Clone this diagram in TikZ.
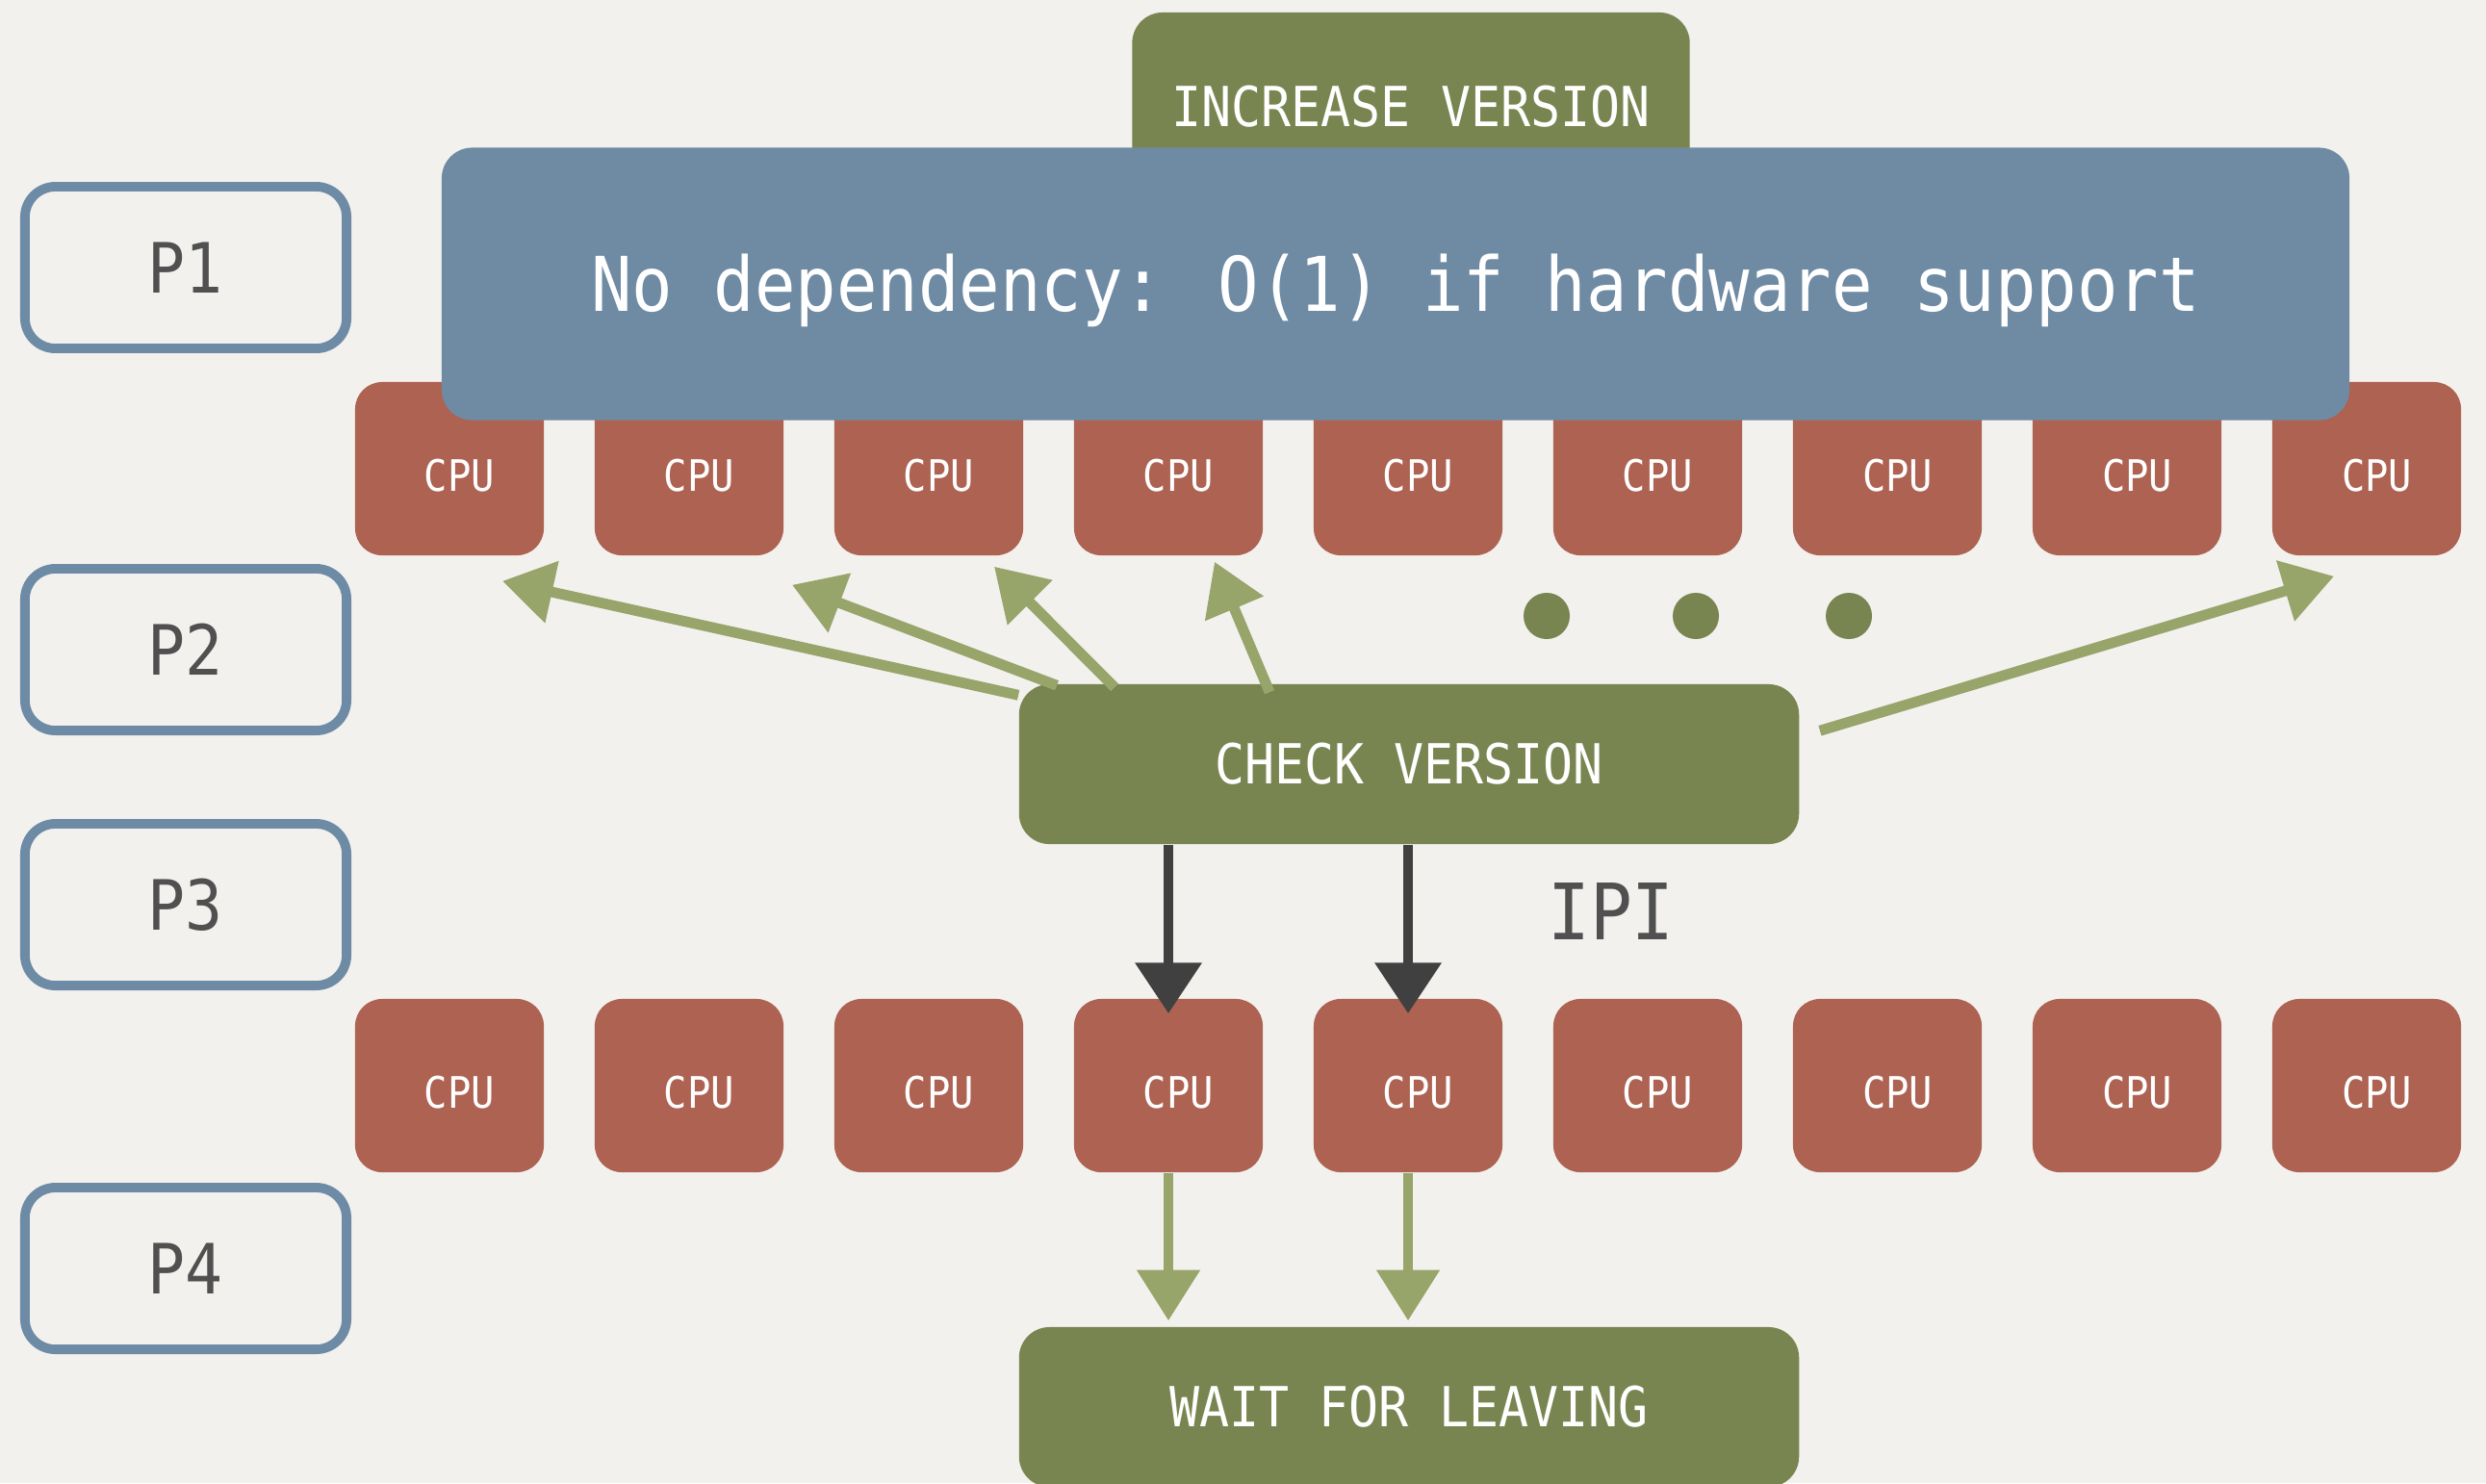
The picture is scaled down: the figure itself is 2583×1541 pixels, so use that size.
\documentclass[tikz,border=0pt]{standalone}
\usepackage{fontspec}
\newfontfamily\mono[FakeStretch=0.9]{DejaVu Sans Mono}
\usetikzlibrary{arrows.meta}
\definecolor{bg}{HTML}{F2F1EE}
\definecolor{cpured}{HTML}{AD6252}
\definecolor{bluebox}{HTML}{6F8BA4}
\definecolor{pblue}{HTML}{6E8BA6}
\definecolor{gbox}{HTML}{798551}
\definecolor{garr}{HTML}{97A46A}
\definecolor{darr}{HTML}{404040}
\definecolor{gtext}{HTML}{505050}
\tikzset{
  cpubox/.style={fill=cpured, rounded corners=8pt, minimum width=1.96cm, minimum height=1.80cm,
    text=white, font=\mono\fontsize{12.8}{14}\selectfont, inner sep=0pt,
    text height=13.1pt, text depth=0pt},
  pbox/.style={draw=pblue, line width=2.8pt, rounded corners=9pt, minimum width=3.34cm,
    minimum height=1.68cm, text=gtext, font=\mono\fontsize{20.5}{22}\selectfont, inner sep=0pt},
  greenbox/.style={fill=gbox, rounded corners=9pt, text=white,
    font=\mono\fontsize{16.3}{18}\selectfont, inner sep=0pt},
  bluenode/.style={fill=bluebox, rounded corners=9pt, text=white,
    font=\mono\fontsize{22.3}{25}\selectfont, inner sep=0pt,
    text height=16.3pt, text depth=0pt},
  garrow/.style={draw=garr, line width=3.1pt, -{Triangle[length=15pt,width=18pt]}},
  darrow/.style={draw=darr, line width=3.1pt, -{Triangle[length=15pt,width=19pt]}},
  dotnode/.style={circle, fill=gbox, minimum size=0.48cm, inner sep=0pt},
  graylabel/.style={text=gtext, font=\mono\fontsize{23}{25}\selectfont, inner sep=0pt}
}
\begin{document}
\begin{tikzpicture}[x=0.01cm,y=-0.01cm]
\clip (0,0) rectangle (2583,1541);
\fill[bg] (0,0) rectangle (2583,1541);

% P boxes
\node[pbox] (p1) at (193,278) {P1};
\node[pbox] (p2) at (193,675) {P2};
\node[pbox] (p3) at (193,940) {P3};
\node[pbox] (p4) at (193,1318) {P4};

% increase version (behind blue)
\node[greenbox, minimum width=5.79cm, minimum height=1.96cm] (inc) at (1466,111) {INCREASE VERSION};

% CPU rows
\foreach \i in {1,...,9}{
  \node[cpubox] (c\i) at ({467+249*(\i-1)},487) {\hspace{6pt}CPU};
  \node[cpubox] (d\i) at ({467+249*(\i-1)},1128) {\hspace{6pt}CPU};
}

% blue box
\node[bluenode, minimum width=19.81cm, minimum height=2.83cm] (blue) at (1450,295)
  {No dependency: O(1) if hardware support};

% check version
\node[greenbox, minimum width=8.10cm, minimum height=1.66cm] (chk) at (1464,794) {CHECK VERSION};
% wait for leaving
\node[greenbox, minimum width=8.10cm, minimum height=1.66cm] (wait) at (1464,1462) {WAIT FOR LEAVING};

% green arrows to first row
\draw[garrow] ([shift={(0,12)}]chk.north west) -- ([shift={(55,26)}]c1.south);
\draw[garrow] ([shift={(40,2)}]chk.north west) -- ([shift={(-142,30)}]c3.south);
\draw[garrow] ([shift={(100,4)}]chk.north west) -- ([shift={(68,11)}]c3.south);
\draw[garrow] ([shift={(261,9)}]chk.north west) -- ([shift={(48,6)}]c4.south);
\draw[garrow] ([shift={(21,49)}]chk.north east) -- ([shift={(-34,21)}]c9.south);

% dots
\node[dotnode] (dot1) at (1607,640) {};
\node[dotnode] (dot2) at (1762,640) {};
\node[dotnode] (dot3) at (1921,640) {};

% IPI arrows
\draw[darrow, shorten >=-4.5pt] (chk.south -| d4.north) -- (d4.north);
\draw[darrow, shorten >=-4.5pt] (chk.south -| d5.north) -- (d5.north);
\node[graylabel] (ipi) at (1674,947) {IPI};

% arrows to wait
\draw[garrow, shorten >=1.7pt] (d4.south) -- (d4.south |- wait.north);
\draw[garrow, shorten >=1.7pt] (d5.south) -- (d5.south |- wait.north);
\end{tikzpicture}
\end{document}
